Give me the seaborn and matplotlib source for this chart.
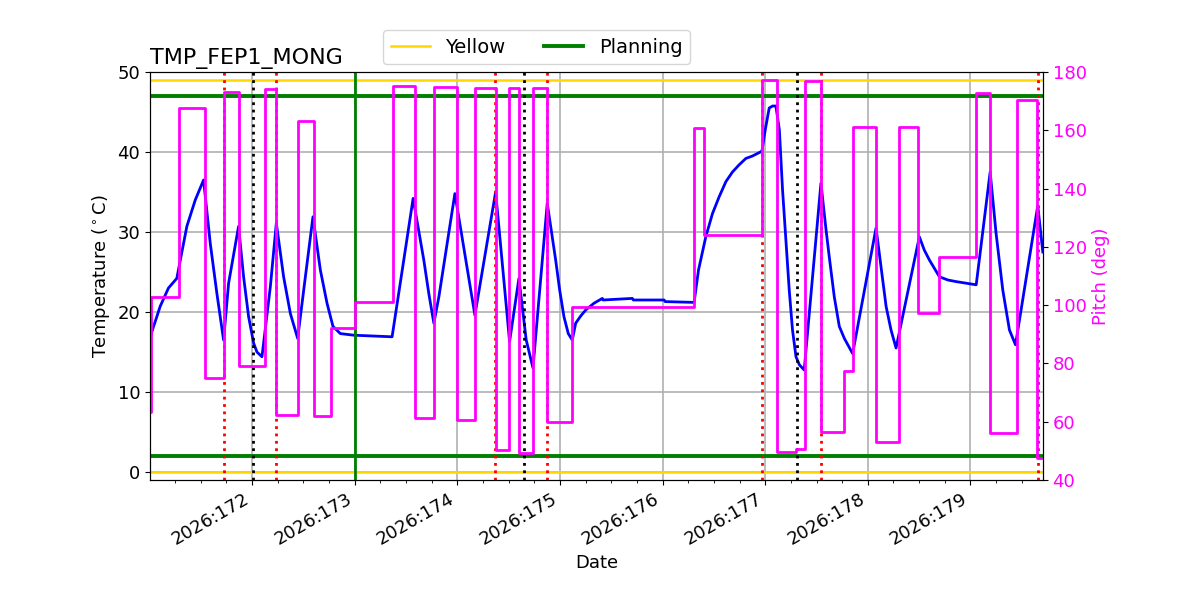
import numpy as np
import pandas as pd
import seaborn as sns
import matplotlib
matplotlib.use("Agg")
import matplotlib.pyplot as plt
import matplotlib.dates as mdates

# =============================================================================
# Data (day-of-year 2026)
# =============================================================================
YEAR_START = pd.Timestamp("2026-01-01")

temp_doy = [171.007, 171.020, 171.040, 171.071, 171.104, 171.185, 171.266, 171.364,
            171.446, 171.527, 171.592, 171.657, 171.722, 171.771, 171.868, 171.917,
            171.966, 172.015, 172.047, 172.096, 172.178, 172.236, 172.307, 172.373,
            172.444, 172.519, 172.593, 172.665, 172.730, 172.788, 172.860, 172.990,
            173.364, 173.478, 173.569, 173.673, 173.722, 173.771, 173.820, 173.976,
            174.171, 174.373, 174.509, 174.600, 174.671, 174.737, 174.876, 174.958,
            174.997, 175.039, 175.081, 175.120, 175.153, 175.202, 175.251, 175.332,
            175.413, 175.420, 175.705, 175.715, 176.015, 176.025, 176.307, 176.350,
            176.421, 176.486, 176.551, 176.617, 176.681, 176.746, 176.812, 176.876,
            176.968, 177.000, 177.039, 177.072, 177.104, 177.138, 177.169, 177.234,
            177.266, 177.300, 177.333, 177.380, 177.543, 177.593, 177.624, 177.673,
            177.722, 177.771, 177.852, 178.080, 178.178, 178.226, 178.275, 178.502,
            178.550, 178.600, 178.698, 178.780, 178.860, 179.056, 179.192, 179.250,
            179.315, 179.380, 179.439, 179.656, 179.705]
temp_degc = [16.5, 17.4, 18.2, 19.4, 20.7, 23.0, 24.2, 30.7,
             34.0, 36.5, 28.6, 22.3, 16.5, 23.6, 30.7, 24.4,
             19.4, 16.1, 15.0, 14.4, 23.2, 31.1, 24.4, 19.8,
             16.7, 24.4, 31.9, 25.25, 21.1, 18.2, 17.3, 17.1,
             16.9, 26.5, 34.2, 26.5, 22.3, 18.6, 21.9, 34.8,
             19.6, 35.0, 16.3, 24.2, 16.5, 13.0, 33.6, 26.5,
             22.75, 19.4, 17.3, 16.5, 18.6, 19.5, 20.25, 21.1,
             21.7, 21.5, 21.7, 21.5, 21.5, 21.3, 21.2, 25.25,
             29.4, 32.3, 34.4, 36.3, 37.5, 38.4, 39.2, 39.5,
             40.1, 42.75, 45.5, 45.75, 45.75, 42.75, 35.25, 22.75,
             17.75, 14.4, 13.4, 12.75, 36.1, 30.25, 26.9, 21.9,
             18.2, 16.7, 14.8, 30.5, 20.7, 17.75, 15.5, 29.4,
             27.75, 26.5, 24.4, 24.0, 23.8, 23.4, 37.5, 29.8,
             22.75, 17.75, 15.9, 33.3, 27.5]

# pitch is a step series: value holds from each time until the next one
pitch_doy = [171.000, 171.017, 171.290, 171.543, 171.730, 171.868, 172.129, 172.232,
             172.449, 172.600, 172.772, 173.002, 173.374, 173.592, 173.776, 173.998,
             174.170, 174.373, 174.502, 174.600, 174.737, 174.876, 175.122, 176.307,
             176.405, 176.968, 177.113, 177.302, 177.392, 177.543, 177.765, 177.855,
             178.080, 178.302, 178.485, 178.690, 179.056, 179.188, 179.452, 179.652,
             179.705]
pitch_deg = [63.5, 102.7, 167.6, 75.1, 173.0, 79.1, 174.0, 62.3,
             163.3, 62.0, 92.1, 101.0, 175.2, 61.2, 175.0, 60.6,
             174.6, 50.3, 174.6, 49.2, 174.5, 59.8, 99.3, 160.7,
             124.0, 177.3, 49.7, 50.5, 177.0, 56.6, 77.5, 161.0,
             52.9, 161.1, 97.2, 116.4, 172.9, 56.0, 170.4, 47.4,
             47.4]

yellow_limits = [0, 49]
planning_limits = [2, 47]
red_event_doy = [171.722, 172.229, 174.366, 174.873, 176.971, 177.546, 179.654]
black_event_doy = [172.005, 174.649, 177.307]
now_doy = 173.0

X_RANGE = (171.005, 179.705)
# =============================================================================


def doy_to_time(doy):
    return YEAR_START + pd.to_timedelta(np.asarray(doy, dtype=float) - 1.0, unit="D")


plt.rcParams["font.size"] = 13

fig, ax = plt.subplots(figsize=(12, 6), dpi=100)

sns.lineplot(x=doy_to_time(temp_doy), y=temp_degc, ax=ax, color="blue", lw=2)
ax.set_ylim(-1, 50)
ax.grid(True, color="#b0b0b0", lw=1.2)

h_yel = None
for v in yellow_limits:
    h_yel = ax.axhline(v, color="gold", lw=1.8)
h_plan = None
for v in planning_limits:
    h_plan = ax.axhline(v, color="green", lw=2.8)

for d in red_event_doy:
    ax.axvline(doy_to_time([d])[0], color="red", ls=":", lw=2)
for d in black_event_doy:
    ax.axvline(doy_to_time([d])[0], color="black", ls=":", lw=2)
ax.axvline(doy_to_time([now_doy])[0], color="green", lw=2)

ax2 = ax.twinx()
sns.lineplot(x=doy_to_time(pitch_doy), y=pitch_deg, ax=ax2, color="magenta",
             drawstyle="steps-post", lw=2)
ax2.set_ylim(40, 180)
ax2.set_ylabel("Pitch (deg)", color="magenta")
ax2.tick_params(axis="y", labelcolor="magenta")

t0, t1 = doy_to_time(X_RANGE)
ax.set_xlim(t0, t1)
ax.xaxis.set_major_locator(mdates.DayLocator())
ax.xaxis.set_minor_locator(mdates.HourLocator(byhour=[0, 6, 12, 18]))
ax.xaxis.set_major_formatter(mdates.DateFormatter("%Y:%j"))

ax.set_xlabel("Date")
ax.set_ylabel(r"Temperature ($^\circ$C)")
ax.set_title("TMP_FEP1_MONG", loc="left", fontsize=16)

ax.legend(handles=[h_yel, h_plan], labels=["Yellow", "Planning"], ncol=2,
          loc="lower left", bbox_to_anchor=(0.25, 0.995), fontsize=14)

fig.autofmt_xdate()
fig.subplots_adjust(left=0.125, right=0.869, bottom=0.2, top=0.88)

fig.savefig("out.png", dpi=100)
plt.close(fig)
